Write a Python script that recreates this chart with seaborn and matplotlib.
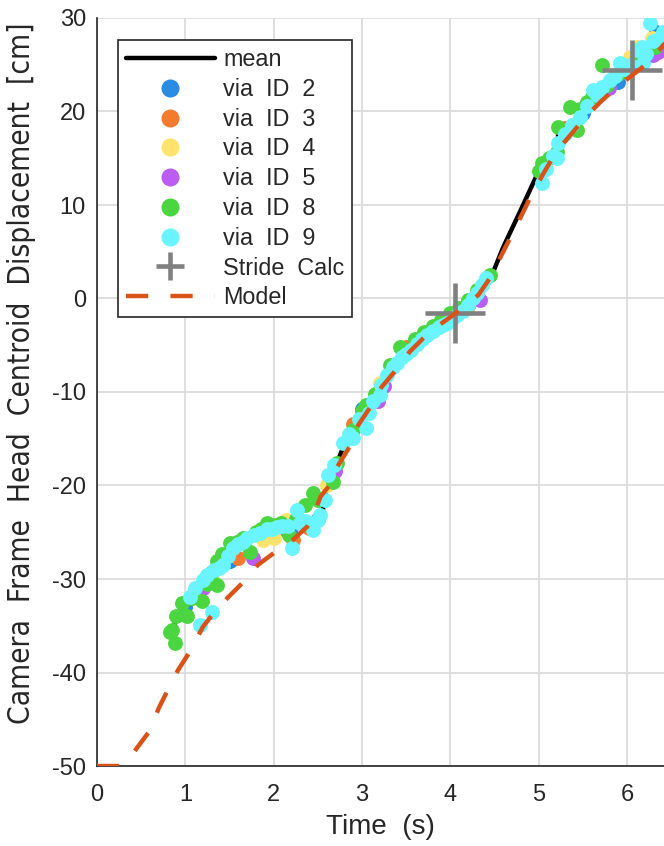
import numpy as np
import pandas as pd
import matplotlib
matplotlib.use("Agg")
import matplotlib.pyplot as plt
import seaborn as sns
from matplotlib.lines import Line2D
from matplotlib import font_manager

# ---------------- data ----------------
mean_x = [0.88, 0.88, 0.93, 1.00, 1.03, 1.10, 1.20, 1.30, 1.40, 1.50, 1.60, 1.70, 1.80, 1.90, 2.00,
          2.10, 2.20, 2.30, 2.40, 2.50, 2.56, 2.56, 2.62, 2.70, 2.80, 2.90, 3.00, 3.10, 3.20, 3.30,
          3.40, 3.50, 3.60, 3.70, 3.80, 3.90, 4.00, 4.10, 4.20, 4.30, 4.40, 4.45, 4.60, 4.80, 4.98,
          5.10, 5.22, 5.22, 5.30, 5.40, 5.50, 5.60, 5.70, 5.80, 5.90, 6.00, 6.10, 6.20, 6.30, 6.40]
mean_y = [-36.5, -34.6, -34.0, -33.5, -33.3, -31.8, -30.6, -29.6, -28.6, -27.6, -26.8, -26.1, -25.5,
          -25.1, -24.7, -24.5, -24.4, -24.3, -24.1, -23.8, -23.2, -21.6, -19.8, -18.0, -15.6, -13.8,
          -12.0, -10.6, -9.2, -7.8, -6.6, -5.6, -4.8, -4.0, -3.3, -2.7, -2.1, -1.4, -0.6, 0.3, 1.4,
          2.0, 5.5, 9.5, 13.2, 14.8, 15.8, 17.5, 18.2, 19.0, 20.0, 21.0, 21.8, 22.6, 23.4, 24.2, 25.2,
          26.2, 27.2, 28.0]

id2_x = [1.00, 1.45, 1.51, 2.20, 2.50, 3.00, 3.60, 4.00, 5.50, 5.90, 6.33]
id2_y = [-33.0, -27.9, -28.1, -25.2, -23.6, -11.8, -4.5, -2.0, 19.8, 23.2, 28.5]

id3_x = [1.10, 1.60, 2.22, 2.40, 2.90, 3.50, 4.20, 5.30, 6.00, 6.20]
id3_y = [-31.8, -27.8, -25.8, -24.5, -13.4, -5.2, -0.8, 18.2, 24.2, 26.8]

id4_x = [1.30, 1.88, 2.00, 2.14, 2.60, 3.20, 3.90, 6.04, 6.11, 6.28]
id4_y = [-30.0, -25.8, -25.6, -23.7, -20.0, -9.0, -2.6, 25.8, 26.9, 27.9]

id5_x = [1.20, 1.45, 1.77, 2.15, 2.70, 3.18, 3.25, 3.70, 4.34, 5.80, 6.30, 6.35]
id5_y = [-31.0, -27.5, -27.8, -24.9, -18.5, -11.0, -9.4, -4.0, -0.2, 22.5, 26.0, 26.4]

id8_x = [0.83, 0.85, 0.88, 0.90, 0.96, 1.02, 1.08, 1.19, 1.25, 1.30, 1.36, 1.36, 1.42, 1.51, 1.58,
         1.65, 1.73, 1.80, 1.86, 1.92, 2.00, 2.08, 2.17, 2.25, 2.36, 2.45, 2.50, 2.67, 2.72, 2.90,
         3.00, 3.05, 3.15, 3.32, 3.43, 3.50, 3.60, 3.70, 3.80, 3.90, 4.00, 4.10, 4.20, 4.30, 4.45,
         5.01, 5.04, 5.12, 5.21, 5.22, 5.36, 5.44, 5.47, 5.55, 5.60, 5.72, 5.78, 5.90, 6.00, 6.10,
         6.24, 6.32, 6.40]
id8_y = [-35.7, -35.5, -36.8, -34.0, -32.6, -34.0, -32.0, -32.4, -30.5, -29.2, -30.6, -28.1, -27.3,
         -26.2, -26.0, -25.6, -27.1, -25.0, -24.6, -24.0, -24.2, -24.0, -25.3, -23.6, -22.1, -20.8,
         -21.5, -19.6, -17.6, -14.1, -12.0, -11.4, -10.2, -7.1, -5.2, -5.5, -4.3, -3.6, -2.9, -2.3,
         -1.6, -1.0, -0.2, 0.9, 2.5, 13.6, 14.5, 15.0, 15.7, 18.3, 20.5, 18.0, 20.3, 21.0, 21.5,
         25.0, 22.8, 24.0, 24.5, 25.5, 26.8, 26.9, 28.0]

id9_x = [1.05, 1.11, 1.17, 1.20, 1.25, 1.30, 1.32, 1.38, 1.43, 1.48, 1.54, 1.60, 1.65, 1.70, 1.78,
         1.85, 1.92, 1.98, 2.04, 2.10, 2.16, 2.21, 2.26, 2.30, 2.35, 2.41, 2.45, 2.50, 2.53, 2.58,
         2.62, 2.68, 2.78, 2.85, 2.90, 2.97, 3.05, 3.08, 3.13, 3.20, 3.22, 3.28, 3.35, 3.40, 3.45,
         3.50, 3.55, 3.62, 3.68, 3.74, 3.81, 3.87, 3.92, 3.96, 4.02, 4.08, 4.14, 4.20, 4.26, 4.30,
         4.36, 4.41, 5.04, 5.08, 5.16, 5.21, 5.22, 5.30, 5.38, 5.47, 5.55, 5.62, 5.66, 5.72, 5.81,
         5.86, 5.92, 5.97, 6.04, 6.11, 6.17, 6.18, 6.22, 6.26, 6.30, 6.36, 6.41]
id9_y = [-31.9, -31.0, -34.9, -30.1, -29.6, -33.5, -29.0, -28.8, -28.5, -27.5, -26.7, -26.3, -26.0,
         -25.6, -25.3, -25.1, -24.7, -24.6, -24.4, -24.3, -24.3, -26.7, -22.6, -24.0, -23.8, -24.0,
         -24.8, -23.7, -23.2, -21.5, -18.9, -17.8, -15.5, -14.5, -14.9, -12.9, -13.8, -12.2, -11.0,
         -10.3, -9.3, -8.2, -7.3, -6.9, -6.3, -5.9, -5.5, -4.9, -4.3, -3.9, -3.5, -3.0, -2.8, -2.6,
         -2.2, -1.8, -1.3, -0.7, 0.0, 0.6, 1.4, 2.2, 12.3, 13.8, 15.2, 15.0, 16.6, 17.6, 18.6, 19.4,
         20.6, 22.3, 21.8, 22.6, 23.4, 23.8, 25.2, 24.5, 25.0, 26.6, 26.9, 25.2, 26.2, 29.5, 27.5,
         27.8, 28.5]

stride_x = [4.05, 6.06]
stride_y = [-1.6, 24.4]

model_x = [0.00, 0.26, 0.36, 0.45, 0.60, 0.70, 0.80, 0.92, 1.05, 1.20, 1.35, 1.49, 1.66, 1.82, 2.02,
           2.22, 2.38, 2.46, 2.53, 2.64, 2.72, 2.87, 2.96, 3.11, 3.22, 3.39, 3.54, 3.71, 3.85, 4.00,
           4.11, 4.20, 4.32, 4.45, 4.61, 4.75, 4.89, 5.05, 5.20, 5.38, 5.55, 5.72, 5.90, 6.09, 6.25,
           6.43]
model_y = [-50.0, -50.0, -49.3, -48.1, -46.2, -43.8, -41.9, -39.7, -37.8, -35.1, -33.3, -31.9, -30.3,
           -28.5, -27.1, -25.8, -24.4, -23.0, -21.2, -19.9, -18.0, -15.7, -13.5, -11.4, -9.5, -7.6,
           -5.7, -4.1, -3.0, -2.0, -1.2, -0.6, 0.4, 2.2, 5.2, 7.8, 10.5, 13.3, 15.7, 17.7, 19.6, 21.2,
           22.7, 24.1, 25.3, 27.3]

id_labels = ["via  ID  2", "via  ID  3", "via  ID  4", "via  ID  5", "via  ID  8", "via  ID  9"]
id_colors = ["#2b8be0", "#f47a2e", "#ffe36b", "#bb5cf2", "#4bd641", "#6af4ff"]
xticks = [0, 1, 2, 3, 4, 5, 6]
yticks = [-50, -40, -30, -20, -10, 0, 10, 20, 30]

# ---------------- style ----------------
sns.set_style("white")
plt.rcParams["font.family"] = ["Liberation Sans", "DejaVu Sans"]
plt.rcParams["axes.unicode_minus"] = False

names = {f.name for f in font_manager.fontManager.ttflist}
if "Liberation Sans Narrow" in names:
    ylab_kw = dict(family=["Liberation Sans Narrow", "DejaVu Sans"], fontsize=26.5)
elif any(f.name == "DejaVu Sans" and f.stretch == "condensed" for f in font_manager.fontManager.ttflist):
    ylab_kw = dict(family=["DejaVu Sans"], fontstretch="condensed", fontsize=21.4)
else:
    ylab_kw = dict(family=["Liberation Sans", "DejaVu Sans"], fontsize=21.8)

fig = plt.figure(figsize=(6.64, 8.46), dpi=100)
ax = fig.add_axes([97 / 664, 1 - 766 / 846, 1 - 97 / 664, (766 - 18) / 846])

ax.grid(True, color="#dcdcdc", lw=1.3, zorder=0)
ax.set_axisbelow(True)

mean_df = pd.DataFrame({"t": mean_x, "y": mean_y})
sns.lineplot(data=mean_df, x="t", y="y", sort=False, color="black", lw=3.2, ax=ax,
             estimator=None, zorder=2)

series = [(id2_x, id2_y), (id3_x, id3_y), (id4_x, id4_y), (id5_x, id5_y), (id8_x, id8_y), (id9_x, id9_y)]
for (sx, sy), lab, col in zip(series, id_labels, id_colors):
    sdf = pd.DataFrame({"t": sx, "y": sy})
    sns.scatterplot(data=sdf, x="t", y="y", color=col, s=115, linewidth=0, ax=ax, zorder=3)

ax.plot(stride_x, stride_y, ls="none", marker="+", markersize=43, mew=3.3, color="#808080", zorder=4)

model_df = pd.DataFrame({"t": model_x, "y": model_y})
sns.lineplot(data=model_df, x="t", y="y", sort=False, color="#d95319", lw=3.2, ax=ax,
             estimator=None, zorder=5, linestyle=(0, (5.0, 5.0)))

ax.set_xlim(0, 6.42)
ax.set_ylim(-50, 30)
ax.set_xticks(xticks)
ax.set_yticks(yticks)
ax.tick_params(direction="in", length=6, width=1.2, labelsize=17, colors="#262626", pad=8)
ax.tick_params(axis="x", pad=13)
for side in ["top", "right"]:
    ax.spines[side].set_visible(False)
for side in ["left", "bottom"]:
    ax.spines[side].set_color("#262626")
    ax.spines[side].set_linewidth(1.2)

ax.set_xlabel("Time  (s)", fontsize=20, color="#262626", labelpad=6)
ax.set_ylabel("Camera  Frame  Head  Centroid  Displacement  [cm]", color="#262626", **ylab_kw)
ax.yaxis.set_label_coords(-0.107, 0.525)

handles = [Line2D([], [], color="black", lw=3.2)]
for col in id_colors:
    handles.append(Line2D([], [], ls="none", marker="o", markersize=13, mew=0, color=col))
handles.append(Line2D([], [], ls="none", marker="+", markersize=20, mew=3.3, color="#808080"))
handles.append(Line2D([], [], color="#d95319", lw=3.2, linestyle=(0, (5.0, 5.0))))
labels = ["mean"] + id_labels + ["Stride  Calc", "Model"]
leg = ax.legend(handles, labels, loc="upper left", bbox_to_anchor=(0.037, 0.9706),
                fontsize=16.8, frameon=True, fancybox=False, framealpha=1, edgecolor="#262626",
                handlelength=3.8, handletextpad=0.35, labelspacing=0.29, borderpad=0.35,
                borderaxespad=0)
leg.get_frame().set_linewidth(1.2)
for t in leg.get_texts():
    t.set_color("#262626")

fig.savefig("out.png", dpi=100)
